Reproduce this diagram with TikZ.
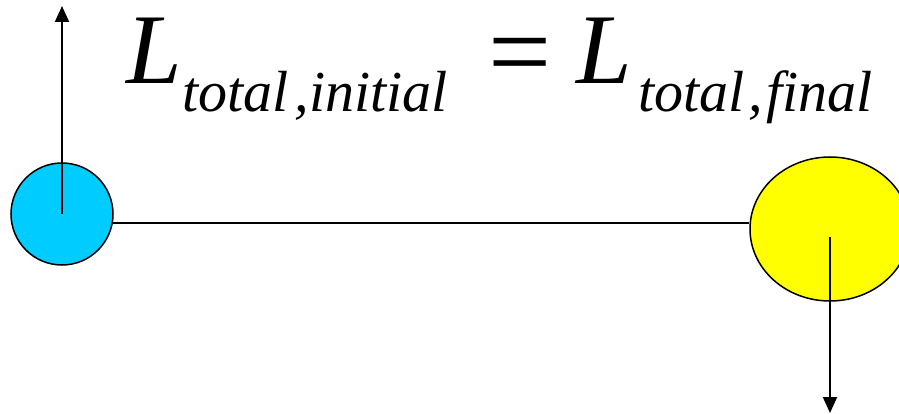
\documentclass[tikz,border=0pt]{standalone}
\usepackage{fontspec}
\newfontfamily\eqfont{LiberationSerif-Italic.ttf}
\newfontfamily\eqrm{LiberationSerif-Regular.ttf}
\usetikzlibrary{shapes.geometric,arrows.meta}
\definecolor{ballblue}{HTML}{00CCFF}
\definecolor{ballyellow}{HTML}{FFFF00}
\tikzset{
  big/.style={anchor=base west,inner sep=0pt,font=\eqfont\fontsize{100}{100}\selectfont},
  sub/.style={anchor=base west,inner sep=0pt,font=\eqfont\fontsize{58}{58}\selectfont},
  ball/.style={draw=black,line width=1.5pt,inner sep=0pt},
  conn/.style={line width=2pt},
  vec/.style={line width=2pt,-{Triangle[width=14pt,length=16pt]}}
}
\begin{document}
\begin{tikzpicture}[x=1pt,y=-1pt]
\useasboundingbox (0,0) rectangle (899,414);
% equation
\node[big] (L1) at (126,84) {L};
\node[sub] (s1) at (182,112) {total\hspace{6pt},initial};
\node[big,font=\eqrm\fontsize{112}{112}\selectfont] (eq) at (488,90) {=};
\node[big] (L2) at (576,84) {L};
\node[sub] (s2) at (638,112) {total\hspace{4pt},\hspace{3pt}final};
% balls
\node[ball,circle,fill=ballblue,minimum size=102pt] (blue) at (62,214) {};
\node[ball,ellipse,fill=ballyellow,minimum width=160pt,minimum height=144pt] (yellow) at (830,229) {};
% connector
\draw[conn] (blue.-10) -- (blue.-10 -| yellow.west);
% vectors
\coordinate (bt) at (62,6);
\coordinate (ys) at (830,237);
\coordinate (yb) at (830,413);
\draw[vec] (blue.center) -- (bt);
\draw[vec] (ys) -- (yb);
\end{tikzpicture}
\end{document}
